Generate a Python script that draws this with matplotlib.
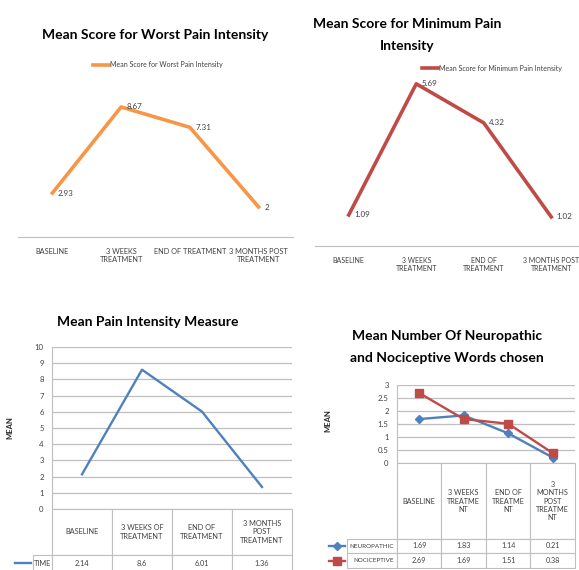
import numpy as np
import matplotlib.pyplot as plt
from matplotlib.lines import Line2D
from matplotlib.ticker import FormatStrFormatter

W, H = 579, 570

# categories
stages_worst = ["BASELINE", "3 WEEKS\nTREATMENT", "END OF TREATMENT", "3 MONTHS POST\nTREATMENT"]
stages_min = ["BASELINE", "3 WEEKS\nTREATMENT", "END OF\nTREATMENT", "3 MONTHS POST\nTREATMENT"]
stages_mean = ["BASELINE", "3 WEEKS OF\nTREATMENT", "END OF\nTREATMENT", "3 MONTHS\nPOST\nTREATMENT"]
stages_words = ["BASELINE", "3 WEEKS\nTREATME\nNT", "END OF\nTREATME\nNT", "3\nMONTHS\nPOST\nTREATME\nNT"]

# values
worst = [2.93, 8.67, 7.31, 2]
minimum = [1.09, 5.69, 4.32, 1.02]
mean_time = [2.14, 8.6, 6.01, 1.36]
neuropathic = [1.69, 1.83, 1.14, 0.21]
nociceptive = [2.69, 1.69, 1.51, 0.38]

ORANGE = "#f79646"
RED = "#be4b48"
BLUE = "#4f81bd"
GRID = "#bfbfbf"
TXT = "#404040"

plt.rcParams["font.family"] = ["Lato", "DejaVu Sans"]

fig = plt.figure(figsize=(W / 100, H / 100), dpi=100)


def px_axes(x0, y0, x1, y1):
    return fig.add_axes([x0 / W, 1 - y1 / H, (x1 - x0) / W, (y1 - y0) / H])


def ftext(x, y, s, **kw):
    fig.text(x / W, 1 - y / H, s, ha="center", va="center", **kw)


x = np.arange(4)
TITLE = 10
SMALL = 5.3


def simple_line(ax, vals, labels, color, label, ymax, lab_fs):
    ax.plot(x, vals, color=color, lw=2.6, label=label)
    for i, v in enumerate(vals):
        ax.annotate(f"{v:g}", (i, v), xytext=(4, 0), textcoords="offset points",
                    ha="left", va="center", fontsize=5.8, color=TXT)
    ax.set_xlim(-0.5, 3.5)
    ax.set_ylim(0, ymax)
    ax.set_yticks([])
    ax.set_xticks(x, labels)
    ax.tick_params(axis="x", length=0, pad=8, labelsize=lab_fs, labelcolor=TXT)
    for s in ["top", "left", "right"]:
        ax.spines[s].set_visible(False)
    ax.spines["bottom"].set_color(GRID)
    ax.patch.set_alpha(0)


# --- top left
ax1 = px_axes(18, 87, 293, 237)
simple_line(ax1, worst, stages_worst, ORANGE, "Mean Score for Worst Pain Intensity", 10, SMALL)
ax1.legend(frameon=False, loc="center", bbox_to_anchor=(158 / W, 1 - 65 / H),
           bbox_transform=fig.transFigure, fontsize=5, handlelength=2.2,
           handletextpad=0.2, labelcolor=TXT)
ftext(155, 35, "Mean Score for Worst Pain Intensity", fontsize=TITLE, weight="bold")

# --- top right
ax2 = px_axes(315, 75, 585, 246)
simple_line(ax2, minimum, stages_min, RED, "Mean Score for Minimum Pain Intensity", 6, 5.0)
ax2.legend(frameon=False, loc="center", bbox_to_anchor=(492 / W, 1 - 68 / H),
           bbox_transform=fig.transFigure, fontsize=5, handlelength=2.2,
           handletextpad=0.2, labelcolor=TXT)
ftext(407, 35, "Mean Score for Minimum Pain\nIntensity", fontsize=TITLE, weight="bold",
      linespacing=2.1)


def style_grid(ax, ymax, step):
    ax.set_ylim(0, ymax)
    ax.set_yticks(np.arange(0, ymax + step / 2, step))
    ax.yaxis.set_major_formatter(FormatStrFormatter("%g"))
    ax.set_xlim(-0.5, 3.5)
    ax.set_xticks([])
    ax.grid(axis="y", color=GRID, lw=0.9)
    ax.set_axisbelow(True)
    ax.tick_params(axis="y", length=0, pad=6, labelsize=5.6, labelcolor=TXT)
    for s in ["top", "right", "bottom"]:
        ax.spines[s].set_visible(False)
    ax.spines["left"].set_color(GRID)
    ax.set_ylabel("MEAN", fontsize=5.5, weight="bold", color="#262626")


def style_table(tb, ax_w, ax_h, col_w, lab_w, heights, fs, lab_fs):
    # sizes in pixels, turned into axes fractions so the bbox scale stays 1
    tb.auto_set_font_size(False)
    tb.set_fontsize(fs)
    for (r, c), cell in tb.get_celld().items():
        cell.set_edgecolor(GRID)
        cell.set_linewidth(0.8)
        cell.get_text().set_color(TXT)
        cell.set_width((lab_w if c == -1 else col_w) / ax_w)
        cell.set_height(heights[r] / ax_h)
        cell.PAD = 0.06
        if c == -1:
            cell.get_text().set_fontsize(lab_fs)


# --- bottom left
ax3 = px_axes(52, 347, 292, 509)
ax3.plot(x, mean_time, color=BLUE, lw=1.7)
style_grid(ax3, 10, 1)
ax3.yaxis.set_label_coords(-0.16, 0.5)
tb3 = ax3.table(cellText=[[f"{v:g}" for v in mean_time]], rowLabels=["TIME"],
                colLabels=stages_mean, cellLoc="center", rowLoc="right",
                bbox=[0, -63 / 162, 1, 63 / 162])
style_table(tb3, 240, 162, 60, 39, [46, 17], SMALL, SMALL)
fig.add_artist(Line2D([15 / W, 31 / W], [1 - 563 / H] * 2, color=BLUE, lw=1.7))
ftext(148, 322, "Mean Pain Intensity Measure", fontsize=TITLE, weight="bold")

# --- bottom right
ax4 = px_axes(397, 385, 575, 463)
ax4.plot(x, neuropathic, color=BLUE, lw=1.7, marker="D", ms=4)
ax4.plot(x, nociceptive, color=RED, lw=1.7, marker="s", ms=5.5)
style_grid(ax4, 3, 0.5)
ax4.yaxis.set_label_coords(-0.37, 0.55)
tb4 = ax4.table(cellText=[[f"{v:g}" for v in neuropathic], [f"{v:g}" for v in nociceptive]],
                rowLabels=["NEUROPATHIC", "NOCICEPTIVE"], colLabels=stages_words,
                cellLoc="center", rowLoc="right",
                bbox=[0, -105 / 78, 1, 105 / 78])
style_table(tb4, 178, 78, 44.5, 70, [76, 14, 15], 5.2, 4.5)
fig.add_artist(Line2D([329 / W, 337 / W, 345 / W], [1 - 546 / H] * 3, color=BLUE, lw=1.7,
                      marker="D", ms=4, markevery=[1]))
fig.add_artist(Line2D([329 / W, 337 / W, 345 / W], [1 - 561 / H] * 3, color=RED, lw=1.7,
                      marker="s", ms=5.5, markevery=[1]))
ftext(447, 347, "Mean Number Of Neuropathic\nand Nociceptive Words chosen", fontsize=TITLE,
      weight="bold", linespacing=2.1)

fig.savefig("out.png", dpi=100)
